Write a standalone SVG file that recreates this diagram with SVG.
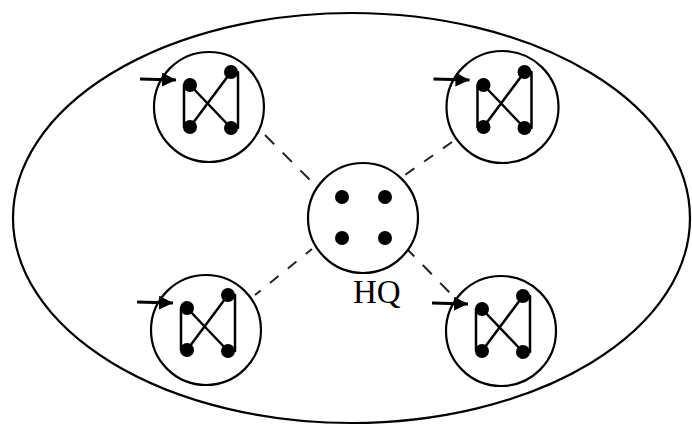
<svg xmlns="http://www.w3.org/2000/svg" width="692" height="426" viewBox="0 0 692 426">
  <style>
    .ring { fill: none; stroke: #000; stroke-width: 2.2; }
    .dot { fill: #000; }
    .ln { stroke: #000; stroke-width: 2.5; fill: none; stroke-linecap: round; }
    .arr { stroke: #000; stroke-width: 3; fill: none; }
    .dash { stroke: #222; stroke-width: 2; fill: none; }
    .lbl { font-family: "Liberation Serif", "Times New Roman", serif; font-size: 33px; fill: #000; }
  </style>
  <defs>
    <marker id="ah" markerUnits="userSpaceOnUse" markerWidth="18" markerHeight="16" refX="14" refY="7" orient="auto">
      <path d="M0,0 L14,7 L0,14 Z" fill="#000"/>
    </marker>
    <g id="fig">
      <line class="arr" x1="-69" y1="-28" x2="-33" y2="-27" marker-end="url(#ah)"/>
      <line class="ln" x1="-25" y1="-22" x2="-25" y2="20"/>
      <line class="ln" x1="29" y1="-35" x2="29" y2="21"/>
      <line class="ln" x1="-19" y1="-22" x2="22" y2="21"/>
      <line class="ln" x1="22" y1="-35" x2="-19" y2="20"/>
      <circle class="dot" cx="-19" cy="-22" r="7"/>
      <circle class="dot" cx="22" cy="-35" r="7"/>
      <circle class="dot" cx="-19" cy="20" r="7"/>
      <circle class="dot" cx="22" cy="21" r="7"/>
    </g>
  </defs>
  <rect width="692" height="426" fill="#fff"/>
  <g id="outer">
    <ellipse class="ring" cx="351.5" cy="218" rx="338.5" ry="205"/>
  </g>
  <g id="connectors">
    <line class="dash" x1="265" y1="135" x2="315" y2="185" stroke-dasharray="13 12"/>
    <line class="dash" x1="452" y1="142" x2="405" y2="175" stroke-dasharray="11 12"/>
    <line class="dash" x1="312" y1="249" x2="255" y2="295" stroke-dasharray="11 12" stroke-dashoffset="3"/>
    <line class="dash" x1="408" y1="250" x2="452" y2="295" stroke-dasharray="13 12" stroke-dashoffset="4"/>
  </g>
  <g id="hq">
    <circle class="ring" cx="363" cy="218" r="55"/>
    <circle class="dot" cx="342" cy="197" r="7"/>
    <circle class="dot" cx="385" cy="197" r="7"/>
    <circle class="dot" cx="342" cy="238" r="7"/>
    <circle class="dot" cx="385" cy="238" r="7"/>
    <text class="lbl" x="353" y="303">HQ</text>
  </g>
  <g id="node-tl">
    <circle class="ring" cx="209" cy="107" r="55"/>
    <use href="#fig" x="209" y="107"/>
  </g>
  <g id="node-tr">
    <circle class="ring" cx="502.5" cy="107" r="56"/>
    <use href="#fig" x="502.5" y="107"/>
  </g>
  <g id="node-bl">
    <circle class="ring" cx="206" cy="330" r="55"/>
    <use href="#fig" x="206" y="330"/>
  </g>
  <g id="node-br">
    <circle class="ring" cx="501" cy="331" r="55"/>
    <use href="#fig" x="501" y="331"/>
  </g>
</svg>
